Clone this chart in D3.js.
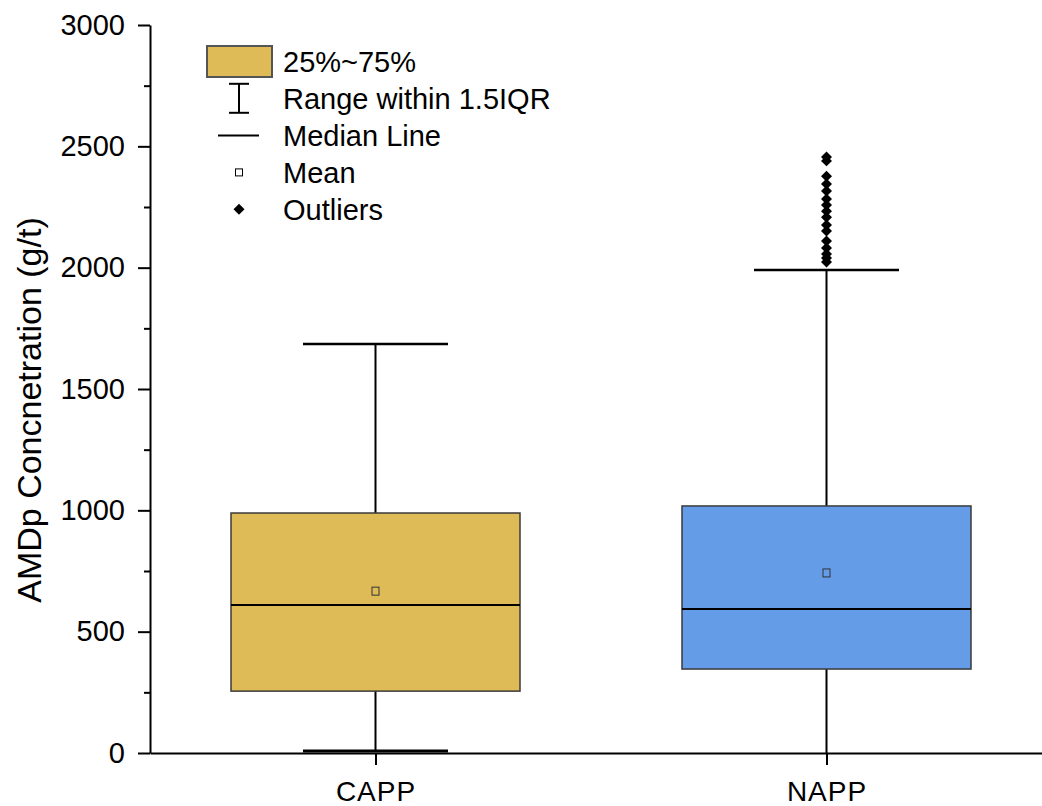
<!DOCTYPE html>
<html>
<head>
<meta charset="utf-8">
<script src="https://cdn.jsdelivr.net/npm/d3@7"></script>
<style>
  body { margin: 0; background: #fff; }
  text { font-family: "Liberation Sans", Arial, sans-serif; fill: #000; }
</style>
</head>
<body>
<div id="chart"></div>
<script>
// Data
const categories = ["CAPP", "NAPP"];
const q1Values = [255, 346];
const q3Values = [989, 1018];
const medianValues = [610, 593];
const meanValues = [667, 742];
const whiskerLow = [8, 0];
const whiskerHigh = [1685, 1990];
const boxColors = ["#DEBB56", "#649CE8"];
const napOutliers = [2456, 2440, 2377, 2345, 2316, 2283, 2258, 2233, 2208, 2176, 2151, 2110, 2081, 2056, 2040, 2023];
const yTicks = [0, 500, 1000, 1500, 2000, 2500, 3000];
const yMinorTicks = [250, 750, 1250, 1750, 2250, 2750];
const legendLabels = ["25%~75%", "Range within 1.5IQR", "Median Line", "Mean", "Outliers"];

const width = 1042;
const height = 806;
const margin = { left: 150, right: -10, top: 25, bottom: 53 };

const svg = d3.select("#chart")
    .append("svg")
    .attr("width", width)
    .attr("height", height);

const x = d3.scalePoint()
    .domain(categories)
    .range([margin.left, width - margin.right])
    .padding(0.5);

const y = d3.scaleLinear()
    .domain([0, 3000])
    .range([height - margin.bottom, margin.top]);

const boxWidth = 289;
const capWidth = 145;

const rows = categories.map((c, i) => ({
    cat: c, q1: q1Values[i], q3: q3Values[i], med: medianValues[i],
    mean: meanValues[i], lo: whiskerLow[i], hi: whiskerHigh[i], color: boxColors[i]
}));

const g = svg.append("g");

// whiskers
g.selectAll(".whisker")
    .data(rows)
    .enter()
    .append("line")
    .attr("x1", d => x(d.cat)).attr("x2", d => x(d.cat))
    .attr("y1", d => y(d.hi)).attr("y2", d => y(d.lo))
    .style("stroke", "#000").style("stroke-width", 2);

g.selectAll(".cap-hi")
    .data(rows)
    .enter()
    .append("line")
    .attr("x1", d => x(d.cat) - capWidth / 2).attr("x2", d => x(d.cat) + capWidth / 2)
    .attr("y1", d => y(d.hi)).attr("y2", d => y(d.hi))
    .style("stroke", "#000").style("stroke-width", 2.5);

g.selectAll(".cap-lo")
    .data(rows.filter(d => d.lo > 0))
    .enter()
    .append("line")
    .attr("x1", d => x(d.cat) - capWidth / 2).attr("x2", d => x(d.cat) + capWidth / 2)
    .attr("y1", d => y(d.lo)).attr("y2", d => y(d.lo))
    .style("stroke", "#000").style("stroke-width", 3);

// boxes
g.selectAll(".box")
    .data(rows)
    .enter()
    .append("rect")
    .attr("x", d => x(d.cat) - boxWidth / 2)
    .attr("width", boxWidth)
    .attr("y", d => y(d.q3))
    .attr("height", d => y(d.q1) - y(d.q3))
    .style("fill", d => d.color)
    .style("stroke", "#3a3a3a")
    .style("stroke-width", 1.5);

g.selectAll(".median")
    .data(rows)
    .enter()
    .append("line")
    .attr("x1", d => x(d.cat) - boxWidth / 2).attr("x2", d => x(d.cat) + boxWidth / 2)
    .attr("y1", d => y(d.med)).attr("y2", d => y(d.med))
    .style("stroke", "#000").style("stroke-width", 2);

g.selectAll(".mean")
    .data(rows)
    .enter()
    .append("rect")
    .attr("x", d => x(d.cat) - 3.5)
    .attr("y", d => y(d.mean) - 4)
    .attr("width", 7).attr("height", 8)
    .style("fill", "none")
    .style("stroke", "#333")
    .style("stroke-width", 1);

// outliers (rotated squares)
const diamond = d3.symbol().type(d3.symbolSquare).size(60);
g.selectAll(".outlier")
    .data(napOutliers)
    .enter()
    .append("path")
    .attr("d", diamond)
    .attr("transform", d => `translate(${x("NAPP")},${y(d)}) rotate(45)`)
    .style("fill", "#000");

// axes
const yAxis = svg.append("g")
    .attr("transform", `translate(${margin.left},0)`)
    .call(d3.axisLeft(y).tickValues(yTicks).tickFormat(d3.format("d")).tickSize(12).tickPadding(13).tickSizeOuter(0));
svg.append("g")
    .attr("transform", `translate(${margin.left},0)`)
    .call(d3.axisLeft(y).tickValues(yMinorTicks).tickSize(6).tickFormat("").tickSizeOuter(0))
    .call(a => a.select(".domain").remove());

const xAxis = svg.append("g")
    .attr("transform", `translate(0,${height - margin.bottom})`)
    .call(d3.axisBottom(x).tickSize(12).tickPadding(16).tickSizeOuter(0));

svg.selectAll(".tick line").style("stroke", "#000").style("stroke-width", 2);
svg.selectAll(".domain").style("stroke", "#000").style("stroke-width", 2);
yAxis.selectAll("text").style("font-size", "29px");
xAxis.selectAll("text").style("font-size", "28px").style("letter-spacing", "1px");

// y title
svg.append("text")
    .attr("transform", `translate(41,410) rotate(-90)`)
    .attr("text-anchor", "middle")
    .style("font-size", "34px")
    .text("AMDp Concnetration (g/t)");

// legend
const legend = svg.append("g").attr("transform", "translate(239,0)");
const rowY = i => 62 + i * 36.8;

legend.append("rect")
    .attr("x", -32).attr("y", rowY(0) - 16)
    .attr("width", 65).attr("height", 31)
    .style("fill", boxColors[0]).style("stroke", "#555").style("stroke-width", 2);

legend.append("line").attr("x1", 0).attr("x2", 0).attr("y1", rowY(1) - 15).attr("y2", rowY(1) + 14)
    .style("stroke", "#000").style("stroke-width", 2);
[-15, 14].forEach(dy => legend.append("line")
    .attr("x1", -10).attr("x2", 10).attr("y1", rowY(1) + dy).attr("y2", rowY(1) + dy)
    .style("stroke", "#000").style("stroke-width", 2));

legend.append("line").attr("x1", -21).attr("x2", 20).attr("y1", rowY(2)).attr("y2", rowY(2))
    .style("stroke", "#000").style("stroke-width", 2);

legend.append("rect").attr("x", -3.5).attr("y", rowY(3) - 3.5).attr("width", 7).attr("height", 7)
    .style("fill", "none").style("stroke", "#000").style("stroke-width", 1);

legend.append("path").attr("d", diamond).attr("transform", `translate(0,${rowY(4)}) rotate(45)`)
    .style("fill", "#000");

legend.selectAll(".legend-label")
    .data(legendLabels)
    .enter()
    .append("text")
    .attr("x", 44)
    .attr("y", (d, i) => rowY(i))
    .attr("dy", "0.36em")
    .style("font-size", "29px")
    .text(d => d);
</script>
</body>
</html>
